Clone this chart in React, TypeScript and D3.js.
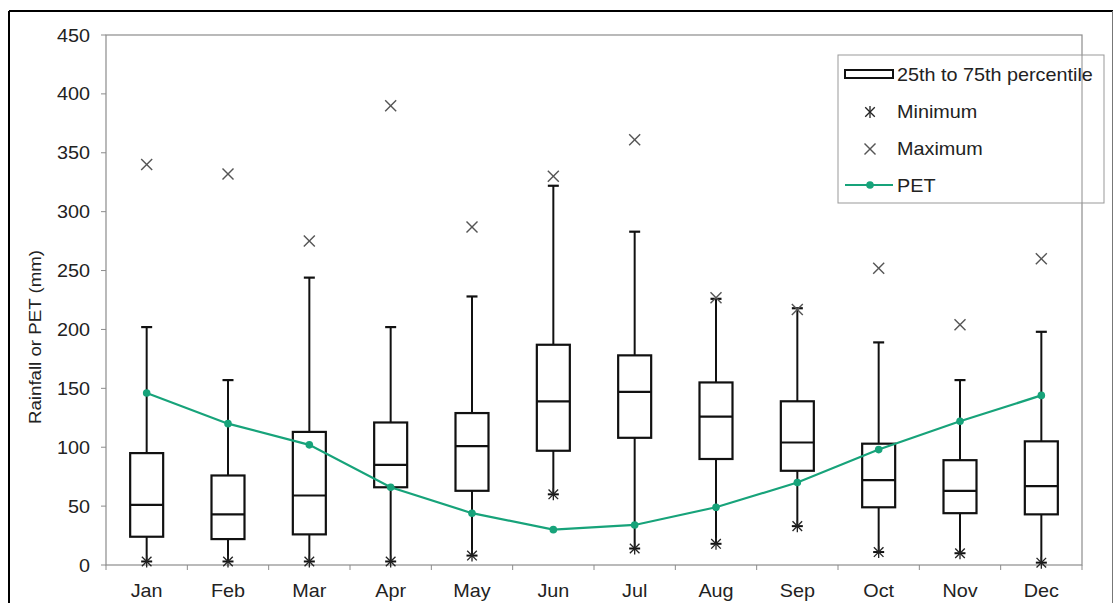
import React from "react";
import * as d3 from "d3";

const months = ["Jan", "Feb", "Mar", "Apr", "May", "Jun", "Jul", "Aug", "Sep", "Oct", "Nov", "Dec"];
const minimum = [3, 3, 3, 3, 8, 60, 14, 18, 33, 11, 10, 2];
const whiskerTop = [202, 157, 244, 202, 228, 322, 283, 226, 218, 189, 157, 198];
const q1 = [24, 22, 26, 66, 63, 97, 108, 90, 80, 49, 44, 43];
const median = [51, 43, 59, 85, 101, 139, 147, 126, 104, 72, 63, 67];
const q3 = [95, 76, 113, 121, 129, 187, 178, 155, 139, 103, 89, 105];
const maximum = [340, 332, 275, 390, 287, 330, 361, 227, 217, 252, 204, 260];
const pet = [146, 120, 102, 66, 44, 30, 34, 49, 70, 98, 122, 144];
const yTicks = [0, 50, 100, 150, 200, 250, 300, 350, 400, 450];
const legendLabels = ["25th to 75th percentile", "Minimum", "Maximum", "PET"];

const FONT = "'Liberation Sans', Arial, Helvetica, sans-serif";
const PET_COLOR = "#17a37a";
const GRID = "#8c8c8c";

const Star = ({ x, y, s = 6 }: { x: number; y: number; s?: number }) => (
  <g stroke="#222" strokeWidth={1.3}>
    <line x1={x} y1={y - s} x2={x} y2={y + s} />
    <line x1={x - s * 0.8} y1={y - s * 0.8} x2={x + s * 0.8} y2={y + s * 0.8} />
    <line x1={x - s * 0.8} y1={y + s * 0.8} x2={x + s * 0.8} y2={y - s * 0.8} />
  </g>
);

const Cross = ({ x, y, s = 5.5 }: { x: number; y: number; s?: number }) => (
  <g stroke="#555" strokeWidth={1.4}>
    <line x1={x - s} y1={y - s} x2={x + s} y2={y + s} />
    <line x1={x - s} y1={y + s} x2={x + s} y2={y - s} />
  </g>
);

const HText = ({ x, y, anchor, children }: any) => (
  <text
    transform={`translate(${x},${y}) scale(1.1,1)`}
    textAnchor={anchor}
    fontFamily={FONT}
    fontSize={18}
    fill="#222"
  >
    {children}
  </text>
);

export default function App() {
  const W = 1114;
  const H = 603;
  const left = 106, right = 1082, top = 35, bottom = 565;
  const x = d3.scaleBand<string>().domain(months).range([left, right]).padding(0);
  const y = d3.scaleLinear().domain([0, 450]).range([bottom, top]);
  const cx = (m: string) => (x(m) as number) + x.bandwidth() / 2;
  const boxW = 33;
  const capW = 11;

  const petLine = d3
    .line<number>()
    .x((_, i) => cx(months[i]))
    .y((d) => y(d));

  const boundaries = d3.range(months.length + 1).map((i) => left + i * x.bandwidth());

  const legX = 838, legY = 55, legW = 266, legH = 148;
  const legRow = (i: number) => legY + 19 + i * 37;

  return (
    <svg width={W} height={H} style={{ position: "absolute", left: 0, top: 0, background: "#fff" }}>
      <rect x={0} y={0} width={W} height={H} fill="#fff" />
      {/* outer frame */}
      <line x1={9} y1={11} x2={1113} y2={11} stroke="#000" strokeWidth={2} />
      <line x1={9} y1={11} x2={9} y2={H} stroke="#000" strokeWidth={2} />
      <line x1={1112.5} y1={11} x2={1112.5} y2={H} stroke="#777" strokeWidth={1} />

      {/* plot frame */}
      <rect x={left} y={top} width={right - left} height={bottom - top} fill="none" stroke={GRID} strokeWidth={1.2} />

      {/* y ticks */}
      {yTicks.map((t) => (
        <g key={t}>
          <line x1={left - 5} x2={left} y1={y(t)} y2={y(t)} stroke={GRID} />
          <HText x={90} y={y(t) + 6.5} anchor="end">{t}</HText>
        </g>
      ))}
      {/* x ticks */}
      {boundaries.map((b, i) => (
        <line key={i} x1={b} x2={b} y1={bottom} y2={bottom + 5} stroke={GRID} />
      ))}
      {months.map((m) => (
        <HText key={m} x={cx(m)} y={597} anchor="middle">{m}</HText>
      ))}

      {/* y axis title */}
      <text
        transform={`translate(41,337) rotate(-90) scale(1.1,1)`}
        textAnchor="middle"
        fontFamily={FONT}
        fontSize={17}
        fill="#222"
      >
        Rainfall or PET (mm)
      </text>

      {/* boxes */}
      {months.map((m, i) => {
        const c = cx(m);
        return (
          <g key={m}>
            <line x1={c} x2={c} y1={y(q3[i])} y2={y(whiskerTop[i])} stroke="#111" strokeWidth={2} />
            <line x1={c - capW / 2} x2={c + capW / 2} y1={y(whiskerTop[i])} y2={y(whiskerTop[i])} stroke="#111" strokeWidth={2.2} />
            <line x1={c} x2={c} y1={y(q1[i])} y2={y(minimum[i])} stroke="#111" strokeWidth={2} />
            <line x1={c - capW / 2} x2={c + capW / 2} y1={y(minimum[i])} y2={y(minimum[i])} stroke="#111" strokeWidth={2} />
            <rect
              x={c - boxW / 2}
              y={y(q3[i])}
              width={boxW}
              height={y(q1[i]) - y(q3[i])}
              fill="#fff"
              stroke="#111"
              strokeWidth={2.2}
            />
            <line x1={c - boxW / 2} x2={c + boxW / 2} y1={y(median[i])} y2={y(median[i])} stroke="#111" strokeWidth={2.2} />
            <Star x={c} y={y(minimum[i])} />
            <Cross x={c} y={y(maximum[i])} />
          </g>
        );
      })}

      {/* PET */}
      <path d={petLine(pet) as string} fill="none" stroke={PET_COLOR} strokeWidth={2.2} />
      {pet.map((v, i) => (
        <circle key={i} cx={cx(months[i])} cy={y(v)} r={3.8} fill={PET_COLOR} />
      ))}

      {/* legend */}
      <rect x={legX} y={legY} width={legW} height={legH} fill="#fff" stroke="#999" strokeWidth={1} />
      <line x1={right} x2={right} y1={legY} y2={legY + legH} stroke={GRID} strokeWidth={1} />
      <rect x={845} y={legRow(0) - 4} width={48} height={8} fill="#fff" stroke="#111" strokeWidth={2} />
      <Star x={870} y={legRow(1) + 1} />
      <Cross x={870} y={legRow(2) + 1} />
      <line x1={845} x2={893} y1={legRow(3)} y2={legRow(3)} stroke={PET_COLOR} strokeWidth={2.2} />
      <circle cx={870} cy={legRow(3)} r={3.8} fill={PET_COLOR} />
      {legendLabels.map((l, i) => (
        <HText key={l} x={897} y={legRow(i) + 6.5} anchor="start">{l}</HText>
      ))}
    </svg>
  );
}
